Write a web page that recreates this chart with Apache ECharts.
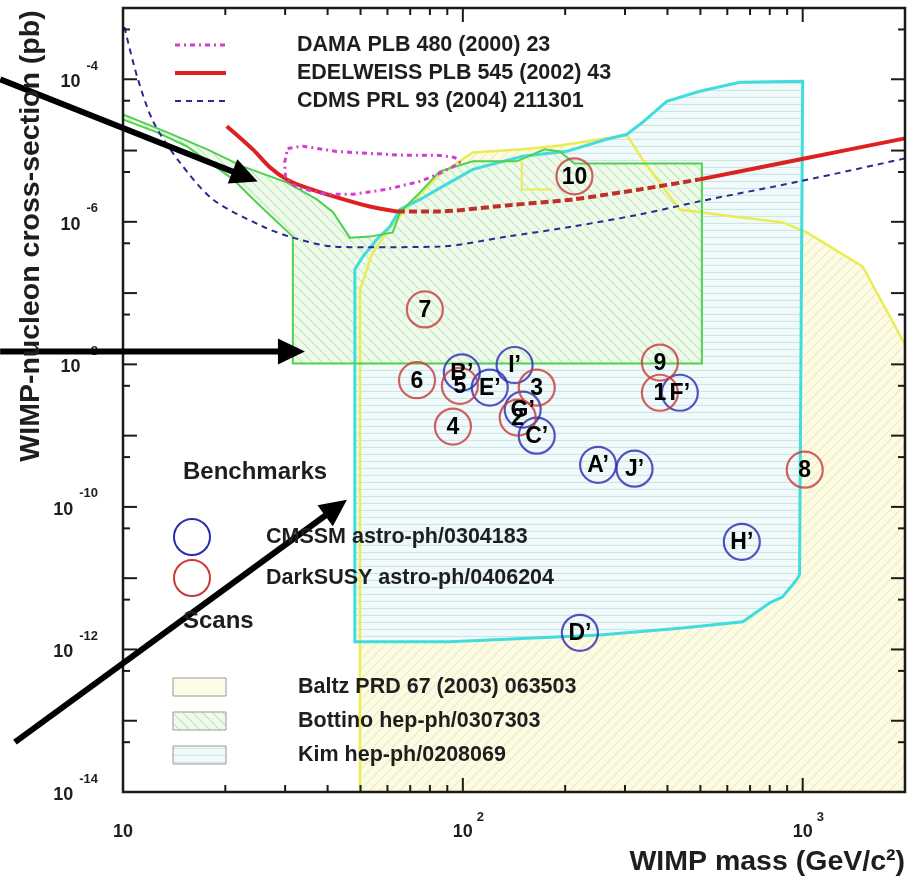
<!DOCTYPE html>
<html><head><meta charset="utf-8">
<script src="https://cdn.jsdelivr.net/npm/echarts@6/dist/echarts.min.js"></script>
<style>html,body{margin:0;padding:0;background:#fff}#c{width:918px;height:881px}</style>
</head><body><div id="c"></div>
<script>
// ---------------- data ----------------
const xMin = 10, xMax = 2000, yMin = 1e-14, yMax = 1e-3;
const xMajorTicks = [10, 100, 1000];
const xMinorTicks = [20, 30, 40, 50, 60, 70, 80, 90, 200, 300, 400, 500, 600, 700, 800, 900];
const yMajorTicks = [1e-14, 1e-13, 1e-12, 1e-11, 1e-10, 1e-9, 1e-8, 1e-7, 1e-6, 1e-5, 1e-4, 1e-3];
const yMinorTicks = [5e-14, 5e-13, 5e-12, 5e-11, 5e-10, 5e-9, 5e-8, 5e-7, 5e-6, 5e-5, 5e-4];
const xLabelValues = [10, 100, 1000];
const xLabelExps = ['', '2', '3'];
const yLabelValues = [1e-14, 1e-12, 1e-10, 1e-8, 1e-6, 1e-4];
const yLabelExps = ['-14', '-12', '-10', '-8', '-6', '-4'];

const damaContour = [[30.5,1.07e-5],[33.8,1.15e-5],[42.6,9.7e-6],[53.2,9.1e-6],[66.6,8.6e-6],[83.9,8.6e-6],[94.6,8.0e-6],[98,6.8e-6],[92.8,5.8e-6],[83.9,4.6e-6],[74.8,3.69e-6],[59.7,2.85e-6],[47.4,2.43e-6],[39.8,2.43e-6],[32.5,3.04e-6],[30.1,3.94e-6],[29.9,6.8e-6],[30.5,1.07e-5]];
const edelweissLimit = [[20.2,2.2e-5],[24.1,1.04e-5],[27.1,5.8e-6],[30.3,3.94e-6],[33.8,3.14e-6],[42.6,2.2e-6],[53.2,1.64e-6],[64.0,1.40e-6],[85.5,1.40e-6],[134.6,1.70e-6],[210.7,2.06e-6],[332,2.85e-6],[498,3.94e-6],[979,7.5e-6],[2000,1.48e-5]];
const cdmsLimit = [[10.1,5.4e-4],[11.0,1.1e-4],[12.3,2.5e-5],[14.7,6.8e-6],[18.4,2.06e-6],[25.8,8.6e-7],[31.6,6.0e-7],[41.5,4.5e-7],[52.2,4.4e-7],[85.5,4.5e-7],[134.6,6.2e-7],[210.7,8.6e-7],[332,1.27e-6],[498,1.94e-6],[979,3.69e-6],[2000,7.76e-6]];

const baltzRegion = [[49.8,1e-14],[49.8,1.12e-7],[54.0,3.48e-7],[61.0,8.3e-7],[69.8,1.75e-6],[85.5,4.6e-6],[107,9.4e-6],[150,1.04e-5],[193,1.18e-5],[253,1.44e-5],[304,1.63e-5],[338,7.5e-6],[398,2.59e-6],[435,1.49e-6],[498,1.36e-6],[873,9.8e-7],[1028,7.1e-7],[1500,2.37e-7],[2000,1.9e-8],[2000,1e-14]];
const baltzBox = [[149,7.05e-6],[149,2.85e-6],[183,2.85e-6]];
const bottinoRegion = [[10,3.22e-5],[13.5,1.80e-5],[17.7,1.04e-5],[22.5,6.0e-6],[30.3,3.57e-6],[37.2,2.06e-6],[41.5,1.36e-6],[46.5,6.0e-7],[53.2,6.2e-7],[62.2,7.1e-7],[65.3,1.36e-6],[74.8,2.59e-6],[85.5,5.1e-6],[107,7.05e-6],[144,7.05e-6],[174,1.04e-5],[193,9.7e-6],[213,6.6e-6],[505,6.6e-6],[505,1.03e-8],[31.6,1.03e-8],[31.6,6.2e-7],[26.5,1.36e-6],[23.7,2.27e-6],[21.1,3.94e-6],[15.4,1.15e-5],[12.6,1.80e-5],[10,2.74e-5]];
const kimRegion = [[48.1,1.28e-12],[48.1,2.14e-7],[50.8,3.26e-7],[55.8,5.66e-7],[61.0,8.6e-7],[65.3,1.49e-6],[74.8,2.06e-6],[87.3,3.14e-6],[107,5.44e-6],[150,8.3e-6],[202,9.75e-6],[265,1.44e-5],[304,1.69e-5],[338,2.49e-5],[398,4.9e-5],[498,6.78e-5],[653,9.1e-5],[1000,9.4e-5],[979,1.12e-11],[960,9.5e-12],[873,5.48e-12],[800,4.5e-12],[667,2.44e-12],[443,2.0e-12],[253,1.6e-12],[91.6,1.28e-12]];

const cmssmNames = ["A’","B’","C’","D’","E’","F’","G’","H’","I’","J’"];
const cmssmMass  = [250, 99.3, 165, 221, 120, 435, 150, 662, 142, 320];
const cmssmSigma = [3.9e-10, 7.7e-9, 1.0e-9, 1.71e-12, 4.72e-9, 4.0e-9, 2.32e-9, 3.24e-11, 9.8e-9, 3.44e-10];
const darksusyNames = ['1','2','3','4','5','6','7','8','9','10'];
const darksusyMass  = [380, 145, 165, 93.5, 98, 73.3, 77.3, 1014, 380, 213];
const darksusySigma = [4.0e-9, 1.79e-9, 4.72e-9, 1.34e-9, 5.0e-9, 6.0e-9, 5.9e-8, 3.33e-10, 1.06e-8, 4.35e-6];

const arrowTails = [[4.35, 1.0e-4], [4.35, 1.51e-8], [4.81, 5.0e-14]];
const arrowTips  = [[24.9, 3.69e-6], [34.3, 1.51e-8], [45.6, 1.26e-10]];

// ---------------- styling / rendering ----------------
const FONT = '"Liberation Sans", Arial, Helvetica, sans-serif';
const measure = (function () { const c = document.createElement('canvas').getContext('2d'); return (t, f) => { c.font = f; return c.measureText(t).width; }; })();

function makePattern(bg, line, kind, s) {
  const c = document.createElement('canvas'); c.width = s; c.height = s;
  const g = c.getContext('2d'); g.fillStyle = bg; g.fillRect(0, 0, s, s);
  g.strokeStyle = line; g.lineWidth = 1.2; g.beginPath();
  if (kind === 'h') { g.moveTo(0, s - 0.5); g.lineTo(s, s - 0.5); }
  else if (kind === '/') { g.moveTo(-1, s + 1); g.lineTo(s + 1, -1); g.moveTo(-1, 1); g.lineTo(1, -1); g.moveTo(s - 1, s + 1); g.lineTo(s + 1, s - 1); }
  else { g.moveTo(-1, -1); g.lineTo(s + 1, s + 1); g.moveTo(-1, s - 1); g.lineTo(1, s + 1); g.moveTo(s - 1, -1); g.lineTo(s + 1, 1); }
  g.stroke();
  return { image: c, repeat: 'repeat' };
}
const yellowPat = makePattern('#fcfbe4', '#efeac0', '/', 10);
const greenPat  = makePattern('#eefaea', '#c4e6bd', '\\', 10);
const cyanPat   = makePattern('#f0fafa', '#cde6e4', 'h', 7);

function polySeries(points, style, z, closed) {
  return {
    type: 'custom', coordinateSystem: 'cartesian2d', z: z, clip: true, silent: true,
    data: points,
    renderItem: function (params, api) {
      if (params.dataIndex !== 0) return null;
      const pts = points.map(p => api.coord(p));
      return { type: closed === false ? 'polyline' : 'polygon', shape: { points: pts }, style: style };
    }
  };
}

function lineSeries(data, color, width, type, z, smooth) {
  return {
    type: 'line', data: data, z: z, showSymbol: false, symbol: 'none', smooth: smooth || false, silent: true,
    lineStyle: { color: color, width: width, type: type }
  };
}

const txt = (text, x, y, font, align, fill) => ({ type: 'text', style: { text: text, x: x, y: y, font: font, fill: fill || '#1e1e1e', align: align, verticalAlign: 'middle', textAlign: align, textVerticalAlign: 'middle' } });

const axesSeries = {
  type: 'custom', coordinateSystem: 'cartesian2d', z: 9, clip: false, silent: true,
  data: [[xMin, yMin]],
  renderItem: function (params, api) {
    const ch = [];
    const tl = api.coord([xMin, yMax]), br = api.coord([xMax, yMin]);
    const add = (x1, y1, x2, y2) => ch.push({ type: 'line', shape: { x1, y1, x2, y2 }, style: { stroke: '#1a1a1a', lineWidth: 2 } });
    xMajorTicks.forEach(v => { const x = api.coord([v, yMin])[0]; add(x, br[1], x, br[1] - 14); add(x, tl[1], x, tl[1] + 14); });
    xMinorTicks.forEach(v => { const x = api.coord([v, yMin])[0]; add(x, br[1], x, br[1] - 7); add(x, tl[1], x, tl[1] + 7); });
    yMajorTicks.forEach(v => { const y = api.coord([xMin, v])[1]; add(tl[0], y, tl[0] + 14, y); add(br[0], y, br[0] - 14, y); });
    yMinorTicks.forEach(v => { const y = api.coord([xMin, v])[1]; add(tl[0], y, tl[0] + 7, y); add(br[0], y, br[0] - 7, y); });
    ch.push({ type: 'rect', shape: { x: tl[0], y: tl[1], width: br[0] - tl[0], height: br[1] - tl[1] }, style: { fill: 'none', stroke: '#1a1a1a', lineWidth: 2.5 } });
    const bigF = 'bold 18px ' + FONT, smallF = 'bold 13px ' + FONT;
    xLabelValues.forEach((v, i) => {
      const x = api.coord([v, yMin])[0];
      ch.push(txt('10', x, br[1] + 40, bigF, 'center'));
      if (xLabelExps[i]) ch.push(txt(xLabelExps[i], x + 14, br[1] + 25, smallF, 'left'));
    });
    yLabelValues.forEach((v, i) => {
      const y = api.coord([xMin, v])[1];
      const ew = measure(yLabelExps[i], smallF);
      ch.push(txt(yLabelExps[i], tl[0] - 25, y - 13, smallF, 'right'));
      ch.push(txt('10', tl[0] - 25 - ew - 6, y + 3, bigF, 'right'));
    });
    return { type: 'group', children: ch };
  }
};

const arrowSeries = {
  type: 'custom', coordinateSystem: 'cartesian2d', z: 10, clip: false, silent: true,
  data: arrowTails,
  renderItem: function (params, api) {
    const i = params.dataIndex;
    const a = api.coord(arrowTails[i]), b = api.coord(arrowTips[i]);
    const dx = b[0] - a[0], dy = b[1] - a[1], L = Math.hypot(dx, dy);
    const ux = dx / L, uy = dy / L, hl = 27, hw = 13;
    const bx = b[0] - ux * hl, by = b[1] - uy * hl;
    return { type: 'group', children: [
      { type: 'line', shape: { x1: a[0], y1: a[1], x2: bx + ux * 2, y2: by + uy * 2 }, style: { stroke: '#000', lineWidth: 6 } },
      { type: 'polygon', shape: { points: [[b[0], b[1]], [bx - uy * hw, by + ux * hw], [bx + uy * hw, by - ux * hw]] }, style: { fill: '#000' } }
    ] };
  }
};

function benchSeries(names, mass, sigma, color) {
  return {
    type: 'scatter', z: 7, silent: true, symbol: 'circle', symbolSize: 36,
    data: names.map((n, i) => [mass[i], sigma[i]]),
    itemStyle: { color: 'rgba(255,255,255,0)', borderColor: color, borderWidth: 2.2 },
    label: { show: false }
  };
}
function benchLabelSeries(names, mass, sigma) {
  return {
    type: 'custom', coordinateSystem: 'cartesian2d', z: 8, clip: false, silent: true,
    data: names.map((n, i) => [mass[i], sigma[i]]),
    renderItem: function (params, api) {
      const p = api.coord([api.value(0), api.value(1)]);
      return txt(names[params.dataIndex], p[0], p[1] + 1, 'bold 23px ' + FONT, 'center', '#000');
    }
  };
}

const gText = (x, y, text, size, align) => ({
  type: 'text', x: x, y: y, z: 100, silent: true,
  style: { text: text, font: 'bold ' + size + 'px ' + FONT, fill: '#1e1e1e', align: align || 'left', verticalAlign: 'middle', textAlign: align || 'left', textVerticalAlign: 'middle' }
});

const graphics = [
  { type: 'line', z: 100, shape: { x1: 175, y1: 45, x2: 226, y2: 45 }, style: { stroke: '#d040d0', lineWidth: 3, lineDash: [5, 4, 2, 4] } },
  { type: 'line', z: 100, shape: { x1: 175, y1: 73, x2: 226, y2: 73 }, style: { stroke: '#dd2020', lineWidth: 4 } },
  { type: 'line', z: 100, shape: { x1: 175, y1: 101, x2: 226, y2: 101 }, style: { stroke: '#2a2a90', lineWidth: 2, lineDash: [6, 5] } },
  gText(297, 45, 'DAMA PLB 480 (2000) 23', 21.5),
  gText(297, 73, 'EDELWEISS PLB 545 (2002) 43', 21.5),
  gText(297, 101, 'CDMS PRL 93 (2004) 211301', 21.5),
  gText(183, 472, 'Benchmarks', 24),
  { type: 'circle', z: 100, shape: { cx: 192, cy: 537, r: 18 }, style: { fill: 'none', stroke: '#2b2bb0', lineWidth: 2 } },
  { type: 'circle', z: 100, shape: { cx: 192, cy: 578, r: 18 }, style: { fill: 'none', stroke: '#c83a3a', lineWidth: 2 } },
  gText(266, 537, 'CMSSM astro-ph/0304183', 21.5),
  gText(266, 578, 'DarkSUSY astro-ph/0406204', 21.5),
  gText(183, 621, 'Scans', 24),
  { type: 'rect', z: 100, shape: { x: 173, y: 678, width: 53, height: 18 }, style: { fill: '#fcfbe4', stroke: '#999', lineWidth: 1 } },
  { type: 'rect', z: 100, shape: { x: 173, y: 712, width: 53, height: 18 }, style: { fill: greenPat, stroke: '#999', lineWidth: 1 } },
  { type: 'rect', z: 100, shape: { x: 173, y: 746, width: 53, height: 18 }, style: { fill: cyanPat, stroke: '#999', lineWidth: 1 } },
  gText(298, 687, 'Baltz PRD 67 (2003) 063503', 21.5),
  gText(298, 721, 'Bottino hep-ph/0307303', 21.5),
  gText(298, 755, 'Kim hep-ph/0208069', 21.5),
  gText(905, 862, 'WIMP mass (GeV/c²)', 28.5, 'right'),
  { type: 'text', x: 31, y: 236, rotation: Math.PI / 2, z: 100, silent: true,
    style: { text: 'WIMP-nucleon cross-section (pb)', font: 'bold 28.5px ' + FONT, fill: '#1e1e1e', align: 'center', verticalAlign: 'middle', textAlign: 'center', textVerticalAlign: 'middle' } }
];

const chart = echarts.init(document.getElementById('c'), null, { renderer: 'canvas' });
chart.setOption({
  animation: false,
  backgroundColor: '#ffffff',
  grid: { left: 123, right: 13, top: 8, bottom: 89 },
  xAxis: {
    type: 'log', logBase: 10, min: xMin, max: xMax,
    axisLine: { show: false }, axisTick: { show: false }, splitLine: { show: false }, axisLabel: { show: false }
  },
  yAxis: {
    type: 'log', logBase: 10, min: yMin, max: yMax,
    axisLine: { show: false }, axisTick: { show: false }, splitLine: { show: false }, axisLabel: { show: false }
  },
  graphic: graphics,
  series: [
    polySeries(baltzRegion, { fill: yellowPat }, 1),
    polySeries(kimRegion, { fill: cyanPat }, 2),
    polySeries(bottinoRegion, { fill: greenPat }, 3),
    polySeries(baltzRegion, { fill: 'none', stroke: '#ecec52', lineWidth: 2.5 }, 4),
    polySeries(baltzBox, { fill: 'none', stroke: '#ecec52', lineWidth: 2 }, 4, false),
    polySeries(kimRegion, { fill: 'none', stroke: '#42dcdc', lineWidth: 3 }, 4),
    polySeries(bottinoRegion, { fill: 'none', stroke: '#4ed24e', lineWidth: 2 }, 4),
    lineSeries(cdmsLimit, '#2a2a90', 2, [6, 5], 5, 0.3),
    lineSeries(edelweissLimit.slice(0, 8), '#dd2020', 4, 'solid', 5, 0.3),
    lineSeries(edelweissLimit.slice(7, 13), '#c0302a', 4, [8, 4], 5, 0.2),
    lineSeries(edelweissLimit.slice(12), '#dd2020', 4, 'solid', 5, 0.2),
    lineSeries(damaContour, '#d040d0', 3, [5, 4, 2, 4], 6, false),
    benchSeries(cmssmNames, cmssmMass, cmssmSigma, '#2b2bb0'),
    benchSeries(darksusyNames, darksusyMass, darksusySigma, '#c83a3a'),
    benchLabelSeries(cmssmNames, cmssmMass, cmssmSigma),
    benchLabelSeries(darksusyNames, darksusyMass, darksusySigma),
    axesSeries,
    arrowSeries
  ]
});
</script>
</body></html>
